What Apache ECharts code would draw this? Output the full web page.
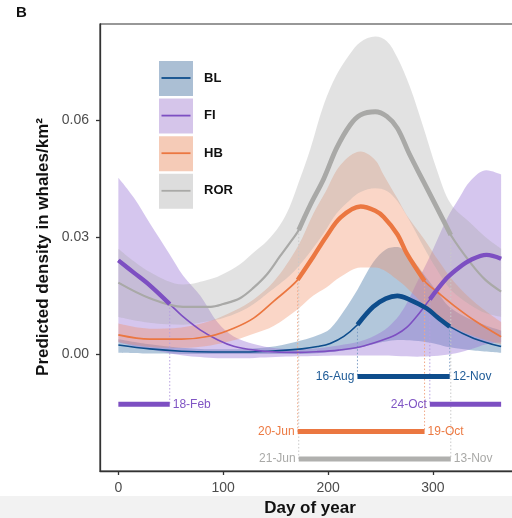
<!DOCTYPE html>
<html>
<head>
<meta charset="utf-8">
<script src="https://cdn.jsdelivr.net/npm/echarts@6/dist/echarts.min.js"></script>
<style>html,body{margin:0;padding:0;background:#fff}#c{width:512px;height:518px}</style>
</head>
<body>
<div id="c"></div>
<script>
// ---- data ----
const speciesNames = ['BL', 'FI', 'HB', 'ROR'];

const BL_days  = [0, 30, 60, 90, 120, 150, 175, 190, 202, 215, 228, 243, 255, 266, 278, 294, 304, 316, 339, 365];
const BL_mean  = [0.0023,0.0013,0.0007,0.0005,0.0005,0.0008,0.0013,0.0019,0.0027,0.0045,0.0075,0.0121,0.0142,0.0149,0.0139,0.0117,0.0095,0.0070,0.0040,0.0019];
const BL_upper = [0.0038,0.0025,0.0016,0.0012,0.0013,0.0020,0.0035,0.0048,0.0065,0.0110,0.0165,0.0235,0.0268,0.0274,0.0250,0.0195,0.0160,0.0120,0.0085,0.0060];
const BL_lower = [0.0003,0.0001,0.0000,0.0000,0.0000,0.0000,0.0000,0.0002,0.0005,0.0009,0.0015,0.0025,0.0032,0.0036,0.0035,0.0030,0.0025,0.0017,0.0009,0.0003];

const FI_days  = [0, 15, 30, 49, 62, 78, 95, 110, 130, 150, 170, 190, 210, 230, 250, 265, 275, 285, 297, 313, 325, 336, 351, 365];
const FI_mean  = [0.0240,0.0208,0.0176,0.0128,0.0095,0.0062,0.0036,0.0020,0.0010,0.0005,0.0004,0.0006,0.0010,0.0018,0.0034,0.0050,0.0068,0.0098,0.0140,0.0194,0.0222,0.0241,0.0254,0.0244];
const FI_upper = [0.0452,0.0400,0.0335,0.0255,0.0200,0.0150,0.0080,0.0045,0.0025,0.0015,0.0013,0.0015,0.0022,0.0032,0.0055,0.0090,0.0130,0.0185,0.0250,0.0345,0.0400,0.0445,0.0471,0.0460];
const FI_lower = [0.0030,0.0020,0.0012,0.0002,-0.0004,-0.0008,-0.0011,-0.0011,-0.0010,-0.0008,-0.0006,-0.0005,-0.0004,-0.0004,-0.0004,-0.0005,-0.0006,-0.0007,-0.0006,-0.0002,0.0004,0.0012,0.0025,0.0030];

const HB_days  = [0, 30, 60, 88, 110, 129, 148, 171, 186, 198, 212, 231, 245, 253, 266, 275, 292, 305, 320, 340, 365];
const HB_mean  = [0.0049,0.0038,0.0038,0.0046,0.0066,0.0092,0.0135,0.0190,0.0250,0.0300,0.0350,0.0378,0.0367,0.0351,0.0307,0.0258,0.0187,0.0157,0.0124,0.0085,0.0044];
const HB_upper = [0.0078,0.0065,0.0068,0.0085,0.0110,0.0140,0.0185,0.0275,0.0360,0.0418,0.0485,0.0519,0.0497,0.0459,0.0399,0.0356,0.0293,0.0240,0.0185,0.0132,0.0082];
const HB_lower = [0.0030,0.0018,0.0016,0.0022,0.0035,0.0052,0.0072,0.0115,0.0150,0.0170,0.0198,0.0222,0.0222,0.0215,0.0190,0.0170,0.0125,0.0095,0.0068,0.0045,0.0025];

const ROR_days  = [0, 30, 62, 88, 100, 116, 129, 142, 154, 163, 172, 183, 196, 208, 221, 231, 245, 256, 266, 278, 291, 304, 317, 336, 350, 365];
const ROR_mean  = [0.0183,0.0143,0.0121,0.0121,0.0128,0.0143,0.0170,0.0205,0.0250,0.0283,0.0318,0.0382,0.0450,0.0527,0.0587,0.0613,0.0621,0.0609,0.0579,0.0510,0.0442,0.0374,0.0305,0.0233,0.0190,0.0160];
const ROR_upper = [0.0270,0.0210,0.0178,0.0192,0.0205,0.0230,0.0260,0.0290,0.0330,0.0375,0.0440,0.0525,0.0640,0.0715,0.0770,0.0800,0.0814,0.0802,0.0760,0.0685,0.0580,0.0470,0.0385,0.0335,0.0300,0.0270];
const ROR_lower = [0.0095,0.0080,0.0075,0.0085,0.0092,0.0108,0.0128,0.0155,0.0180,0.0200,0.0225,0.0262,0.0310,0.0360,0.0395,0.0415,0.0425,0.0418,0.0392,0.0340,0.0275,0.0215,0.0165,0.0125,0.0105,0.0095];

// presence periods (day of year) and their date labels
const BL_periods  = [[228, 316]];
const FI_periods  = [[0, 49], [297, 365]];
const HB_periods  = [[171, 292]];
const ROR_periods = [[172, 317]];
const BL_periodLabels  = [['16-Aug', '12-Nov']];
const FI_periodLabels  = [['', '18-Feb'], ['24-Oct', '']];
const HB_periodLabels  = [['20-Jun', '19-Oct']];
const ROR_periodLabels = [['21-Jun', '13-Nov']];
const periodBarLevels = [-0.0058, -0.0129, -0.0199, -0.0269]; // BL, FI, HB, ROR

const xTicks = [0, 100, 200, 300];
const yTicks = [0, 0.03, 0.06];

// ---- styles ----
const FONT = "'Liberation Sans', Arial, Helvetica, sans-serif";
const lineColors   = {BL: '#0e4d8c', FI: '#7d4fc2', HB: '#eb7741', ROR: '#a9a9a7'};
const bandColors   = {BL: 'rgba(72,122,170,0.42)', FI: 'rgba(150,112,212,0.40)', HB: 'rgba(242,142,100,0.36)', ROR: 'rgba(168,168,166,0.33)'};
const legendFills  = {BL: '#abbfd4', FI: '#d5c5ea', HB: '#f5cbb7', ROR: '#dddddd'};
const labelColors  = {BL: '#1d5a96', FI: '#8055c4', HB: '#ec7a43', ROR: '#a9a9a7'};
const dotColors    = {BL: '#7c9cc4', FI: '#b79fe0', HB: '#f1a886', ROR: '#c9c9c9'};
const thinWidths   = {BL: 1.6, FI: 1.6, HB: 1.7, ROR: 2.2};
const thickWidths  = {BL: 4.6, FI: 4.4, HB: 4.4, ROR: 4.8};

const S = {
  BL:  {days: BL_days, mean: BL_mean, upper: BL_upper, lower: BL_lower, periods: BL_periods, labels: BL_periodLabels},
  FI:  {days: FI_days, mean: FI_mean, upper: FI_upper, lower: FI_lower, periods: FI_periods, labels: FI_periodLabels},
  HB:  {days: HB_days, mean: HB_mean, upper: HB_upper, lower: HB_lower, periods: HB_periods, labels: HB_periodLabels},
  ROR: {days: ROR_days, mean: ROR_mean, upper: ROR_upper, lower: ROR_lower, periods: ROR_periods, labels: ROR_periodLabels}
};

const SMOOTH = 0.35;
const series = [];

// bands (value first so that stacking happens on the y dimension)
speciesNames.forEach(n => {
  const d = S[n];
  series.push({
    type: 'line', name: n + '_lo', stack: 'band' + n, stackStrategy: 'all',
    data: d.days.map((x, i) => [d.lower[i], x]), encode: {x: 1, y: 0},
    symbol: 'none', smooth: SMOOTH, lineStyle: {opacity: 0}, silent: true, z: 1
  });
  series.push({
    type: 'line', name: n + '_band', stack: 'band' + n, stackStrategy: 'all',
    data: d.days.map((x, i) => [d.upper[i] - d.lower[i], x]), encode: {x: 1, y: 0},
    symbol: 'none', smooth: SMOOTH, lineStyle: {opacity: 0},
    areaStyle: {color: bandColors[n], opacity: 1}, silent: true, z: 1
  });
});

// dotted guides from curve to the period bar
speciesNames.forEach((n, k) => {
  const d = S[n];
  d.periods.forEach(p => {
    p.forEach(day => {
      if (day === 0 || day === 365) return;
      const idx = d.days.indexOf(day);
      series.push({
        type: 'line', data: [[day, d.mean[idx]], [day, periodBarLevels[k]]],
        symbol: 'none', lineStyle: {color: dotColors[n], width: 1, type: [1.5, 2]}, silent: true, z: 2
      });
    });
  });
});

// mean curves (thin) + thick presence segments
speciesNames.forEach(n => {
  const d = S[n];
  series.push({
    type: 'line', name: n, data: d.days.map((x, i) => [x, d.mean[i]]),
    symbol: 'none', smooth: SMOOTH, lineStyle: {color: lineColors[n], width: thinWidths[n]}, z: 3
  });
  d.periods.forEach(p => {
    const seg = [];
    d.days.forEach((x, i) => { if (x >= p[0] && x <= p[1]) seg.push([x, d.mean[i]]); });
    series.push({
      type: 'line', data: seg, symbol: 'none', smooth: SMOOTH,
      lineStyle: {color: lineColors[n], width: thickWidths[n], cap: 'butt'}, z: 4
    });
  });
});

// period bars with date labels
speciesNames.forEach((n, k) => {
  const d = S[n];
  d.periods.forEach((p, j) => {
    const lab = d.labels[j];
    const lblStyle = {color: labelColors[n], fontSize: 12, fontFamily: FONT, distance: 3};
    series.push({
      type: 'line',
      data: [
        {value: [p[0], periodBarLevels[k]], label: Object.assign({show: !!lab[0], position: 'left', formatter: lab[0]}, lblStyle)},
        {value: [p[1], periodBarLevels[k]], label: Object.assign({show: !!lab[1], position: 'right', formatter: lab[1]}, lblStyle)}
      ],
      symbol: 'circle', symbolSize: 0.01, showSymbol: true,
      lineStyle: {color: n === 'ROR' ? '#b0b0ae' : lineColors[n], width: 5, cap: 'butt'}, z: 4
    });
  });
});

// legend drawn as graphics
const legendGraphics = [];
speciesNames.forEach((n, i) => {
  const y0 = 61 + i * 37.6;
  const yc = y0 + 17;
  legendGraphics.push({type: 'rect', shape: {x: 159, y: y0, width: 34, height: 35}, style: {fill: legendFills[n]}, z: 100});
  legendGraphics.push({type: 'line', shape: {x1: 161.5, y1: yc, x2: 190.5, y2: yc}, style: {stroke: lineColors[n], lineWidth: 1.8}, z: 101});
  legendGraphics.push({type: 'text', x: 204, y: yc, style: {text: n, fill: '#111', font: 'bold 13px ' + FONT, verticalAlign: 'middle'}, z: 101});
});

const option = {
  animation: false,
  textStyle: {fontFamily: FONT},
  grid: {left: 100, top: 24, width: 420, height: 447, show: true, borderColor: '#333', borderWidth: 1.2,
         containLabel: false, outerBoundsMode: 'none'},
  xAxis: {
    type: 'value', min: -17.5, max: 383,
    splitLine: {show: false},
    axisLine: {onZero: false, lineStyle: {color: '#333', width: 1.3}},
    axisTick: {show: true, length: 4, customValues: xTicks, lineStyle: {color: '#333', width: 1.3}},
    axisLabel: {customValues: xTicks, color: '#4d4d4d', fontSize: 14, margin: 10, fontFamily: FONT},
    name: 'Day of year', nameLocation: 'middle', nameGap: 29,
    nameTextStyle: {fontWeight: 'bold', fontSize: 17, color: '#111', fontFamily: FONT}
  },
  yAxis: {
    type: 'value', min: -0.030, max: 0.0846,
    splitLine: {show: false},
    axisLine: {show: true, onZero: false, lineStyle: {color: '#333', width: 1.3}},
    axisTick: {show: true, length: 4, customValues: yTicks, lineStyle: {color: '#333', width: 1.3}},
    axisLabel: {customValues: yTicks, color: '#4d4d4d', fontSize: 14, margin: 11, fontFamily: FONT,
      formatter: v => v.toFixed(2)}
  },
  graphic: [
    {type: 'rect', shape: {x: 0, y: 496, width: 512, height: 22}, style: {fill: '#f2f2f2'}, z: -10, silent: true},
    {type: 'text', x: 16, y: 13, style: {text: 'B', fill: '#111', font: 'bold 15px ' + FONT, verticalAlign: 'middle'}},
    {type: 'text', x: 43, y: 247, rotation: Math.PI / 2,
      style: {text: 'Predicted density in whales/km²', fill: '#111', font: 'bold 17px ' + FONT, align: 'center', verticalAlign: 'middle'}}
  ].concat(legendGraphics),
  series: series
};

const chart = echarts.init(document.getElementById('c'), null, {renderer: 'canvas'});
chart.setOption(option);
</script>
</body>
</html>
